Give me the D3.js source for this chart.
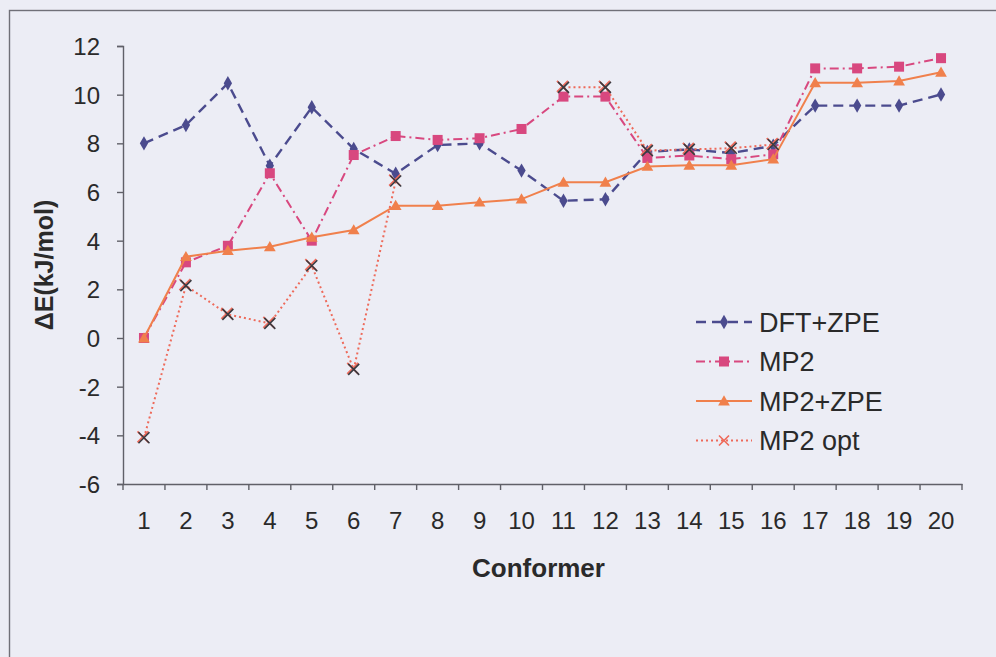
<!DOCTYPE html>
<html>
<head>
<meta charset="utf-8">
<script src="https://cdn.jsdelivr.net/npm/d3@7"></script>
<style>
  html, body { margin: 0; padding: 0; background: #ecedf5; }
  svg { display: block; font-family: "Liberation Sans", Arial, sans-serif; }
</style>
</head>
<body>
<svg id="chart" width="996" height="657"></svg>
<script>
// Relative energies of the twenty conformers (kJ/mol)
const conformers = d3.range(1, 21).map(String);
const dftZpe = [8.0, 8.75, 10.47, 7.08, 9.48, 7.77, 6.75, 7.93, 8.0, 6.88, 5.64, 5.7, 7.65, 7.75, 7.6, 7.9, 9.55, 9.55, 9.55, 10.01];
const mp2 = [0, 3.11, 3.79, 6.77, 4.0, 7.52, 8.3, 8.14, 8.21, 8.59, 9.92, 9.92, 7.4, 7.5, 7.35, 7.55, 11.08, 11.08, 11.15, 11.5];
const mp2Zpe = [0, 3.34, 3.59, 3.75, 4.14, 4.44, 5.44, 5.44, 5.58, 5.71, 6.4, 6.4, 7.05, 7.1, 7.1, 7.35, 10.49, 10.49, 10.56, 10.92];
const mp2Opt = [-4.1, 2.15, 0.97, 0.6, 2.97, -1.29, 6.45, null, null, null, 10.3, 10.3, 7.7, 7.75, 7.8, 7.95, null, null, null, null];
const yTicks = [-6, -4, -2, 0, 2, 4, 6, 8, 10, 12];
const seriesNames = ["DFT+ZPE", "MP2", "MP2+ZPE", "MP2 opt"];

const series = [
  { name: seriesNames[0], values: dftZpe, color: "#4b4b8e", dash: "10,6", width: 2.4, marker: "diamond" },
  { name: seriesNames[1], values: mp2, color: "#d8487f", dash: "9,4,2,4", width: 2, marker: "square" },
  { name: seriesNames[2], values: mp2Zpe, color: "#f0804c", dash: null, width: 2, marker: "triangle" },
  { name: seriesNames[3], values: mp2Opt, color: "#ee6a5a", dash: "2,3", width: 2, marker: "cross" }
];

const svg = d3.select("#chart");
const plot = { left: 123, right: 962, top: 46, bottom: 484 };

// outer chart frame
svg.append("rect")
  .attr("x", 9.5).attr("y", 10.5)
  .attr("width", 1100).attr("height", 800)
  .attr("fill", "none").attr("stroke", "#707078").attr("stroke-width", 1.4);

const x = d3.scaleBand().domain(conformers).range([plot.left, plot.right]);
const y = d3.scaleLinear().domain([-6, 12]).range([plot.bottom, plot.top]);
const cx = c => x(c) + x.bandwidth() / 2;

// axes
const yAxis = svg.append("g")
  .attr("transform", `translate(${plot.left},0)`)
  .call(d3.axisLeft(y).tickValues(yTicks).tickSize(6).tickPadding(17).tickFormat(d => String(d)));
const xAxis = svg.append("g")
  .attr("transform", `translate(0,${plot.bottom})`)
  .call(d3.axisBottom(x).tickSize(0).tickPadding(28));
// category boundary ticks
xAxis.selectAll(".bnd")
  .data(d3.range(0, 21))
  .join("line")
  .attr("class", "bnd")
  .attr("x1", i => plot.left + i * x.step()).attr("x2", i => plot.left + i * x.step())
  .attr("y1", 0).attr("y2", 6);

[yAxis, xAxis].forEach(g => {
  g.select(".domain").attr("stroke", "#606068").attr("stroke-width", 1.4);
  g.selectAll("line").attr("stroke", "#606068").attr("stroke-width", 1.4);
  g.selectAll("text").attr("font-size", 24).attr("fill", "#2a2a2a")
    .attr("font-family", "Liberation Sans, Arial, sans-serif");
});
yAxis.selectAll("text").attr("dy", "0.36em");

// axis titles
svg.append("text")
  .attr("x", (plot.left + plot.right) / 2 - 4).attr("y", 577)
  .attr("text-anchor", "middle")
  .attr("font-size", 26).attr("font-weight", "bold").attr("fill", "#2a2a2a")
  .text("Conformer");
svg.append("text")
  .attr("transform", `translate(53,${(plot.top + plot.bottom) / 2}) rotate(-90)`)
  .attr("text-anchor", "middle")
  .attr("font-size", 25).attr("font-weight", "bold").attr("fill", "#2a2a2a")
  .text("ΔE(kJ/mol)");

function drawMarker(g, type, color, px, py) {
  if (type === "diamond") {
    g.append("path").attr("d", d3.symbol(d3.symbolDiamond, 60)())
      .attr("transform", `translate(${px},${py})`).attr("fill", color);
  } else if (type === "square") {
    g.append("rect").attr("x", px - 5).attr("y", py - 5).attr("width", 10).attr("height", 10)
      .attr("fill", color);
  } else if (type === "triangle") {
    g.append("path").attr("d", d3.symbol(d3.symbolTriangle, 60)())
      .attr("transform", `translate(${px},${py + 1})`).attr("fill", color);
  } else if (type === "cross") {
    const s = 5.5;
    g.append("path").attr("d", `M${px - s},${py - s}L${px + s},${py + s}M${px - s},${py + s}L${px + s},${py - s}`)
      .attr("stroke", color).attr("stroke-width", 1.8).attr("transform", "translate(-1,-1)");
    g.append("path").attr("d", `M${px - s},${py - s}L${px + s},${py + s}M${px - s},${py + s}L${px + s},${py - s}`)
      .attr("stroke", "#3a3a40").attr("stroke-width", 1.6);
  }
}

// series lines and markers
series.forEach(s => {
  const g = svg.append("g");
  const pts = conformers.map((c, i) => ({ c, v: s.values[i] }));
  const line = d3.line()
    .defined(d => d.v !== null)
    .x(d => cx(d.c)).y(d => y(d.v));
  g.append("path").datum(pts)
    .attr("d", line)
    .attr("fill", "none")
    .attr("stroke", s.color)
    .attr("stroke-width", s.width)
    .attr("stroke-dasharray", s.dash);
  pts.filter(d => d.v !== null).forEach(d => drawMarker(g, s.marker, s.color, cx(d.c), y(d.v)));
});

// legend
const legend = svg.append("g");
series.forEach((s, i) => {
  const ly = 322 + i * 39.5;
  legend.append("line")
    .attr("x1", 696).attr("x2", 752).attr("y1", ly).attr("y2", ly)
    .attr("stroke", s.color).attr("stroke-width", s.width).attr("stroke-dasharray", s.dash);
  if (s.marker === "cross") {
    const sz = 5;
    legend.append("path").attr("d", `M${724 - sz},${ly - sz}L${724 + sz},${ly + sz}M${724 - sz},${ly + sz}L${724 + sz},${ly - sz}`)
      .attr("stroke", s.color).attr("stroke-width", 1.6);
  } else {
    drawMarker(legend, s.marker, s.color, 724, ly);
  }
  legend.append("text")
    .attr("x", 759).attr("y", ly).attr("dy", "0.36em")
    .attr("font-size", 27).attr("fill", "#2a2a2a")
    .text(s.name);
});
</script>
</body>
</html>
